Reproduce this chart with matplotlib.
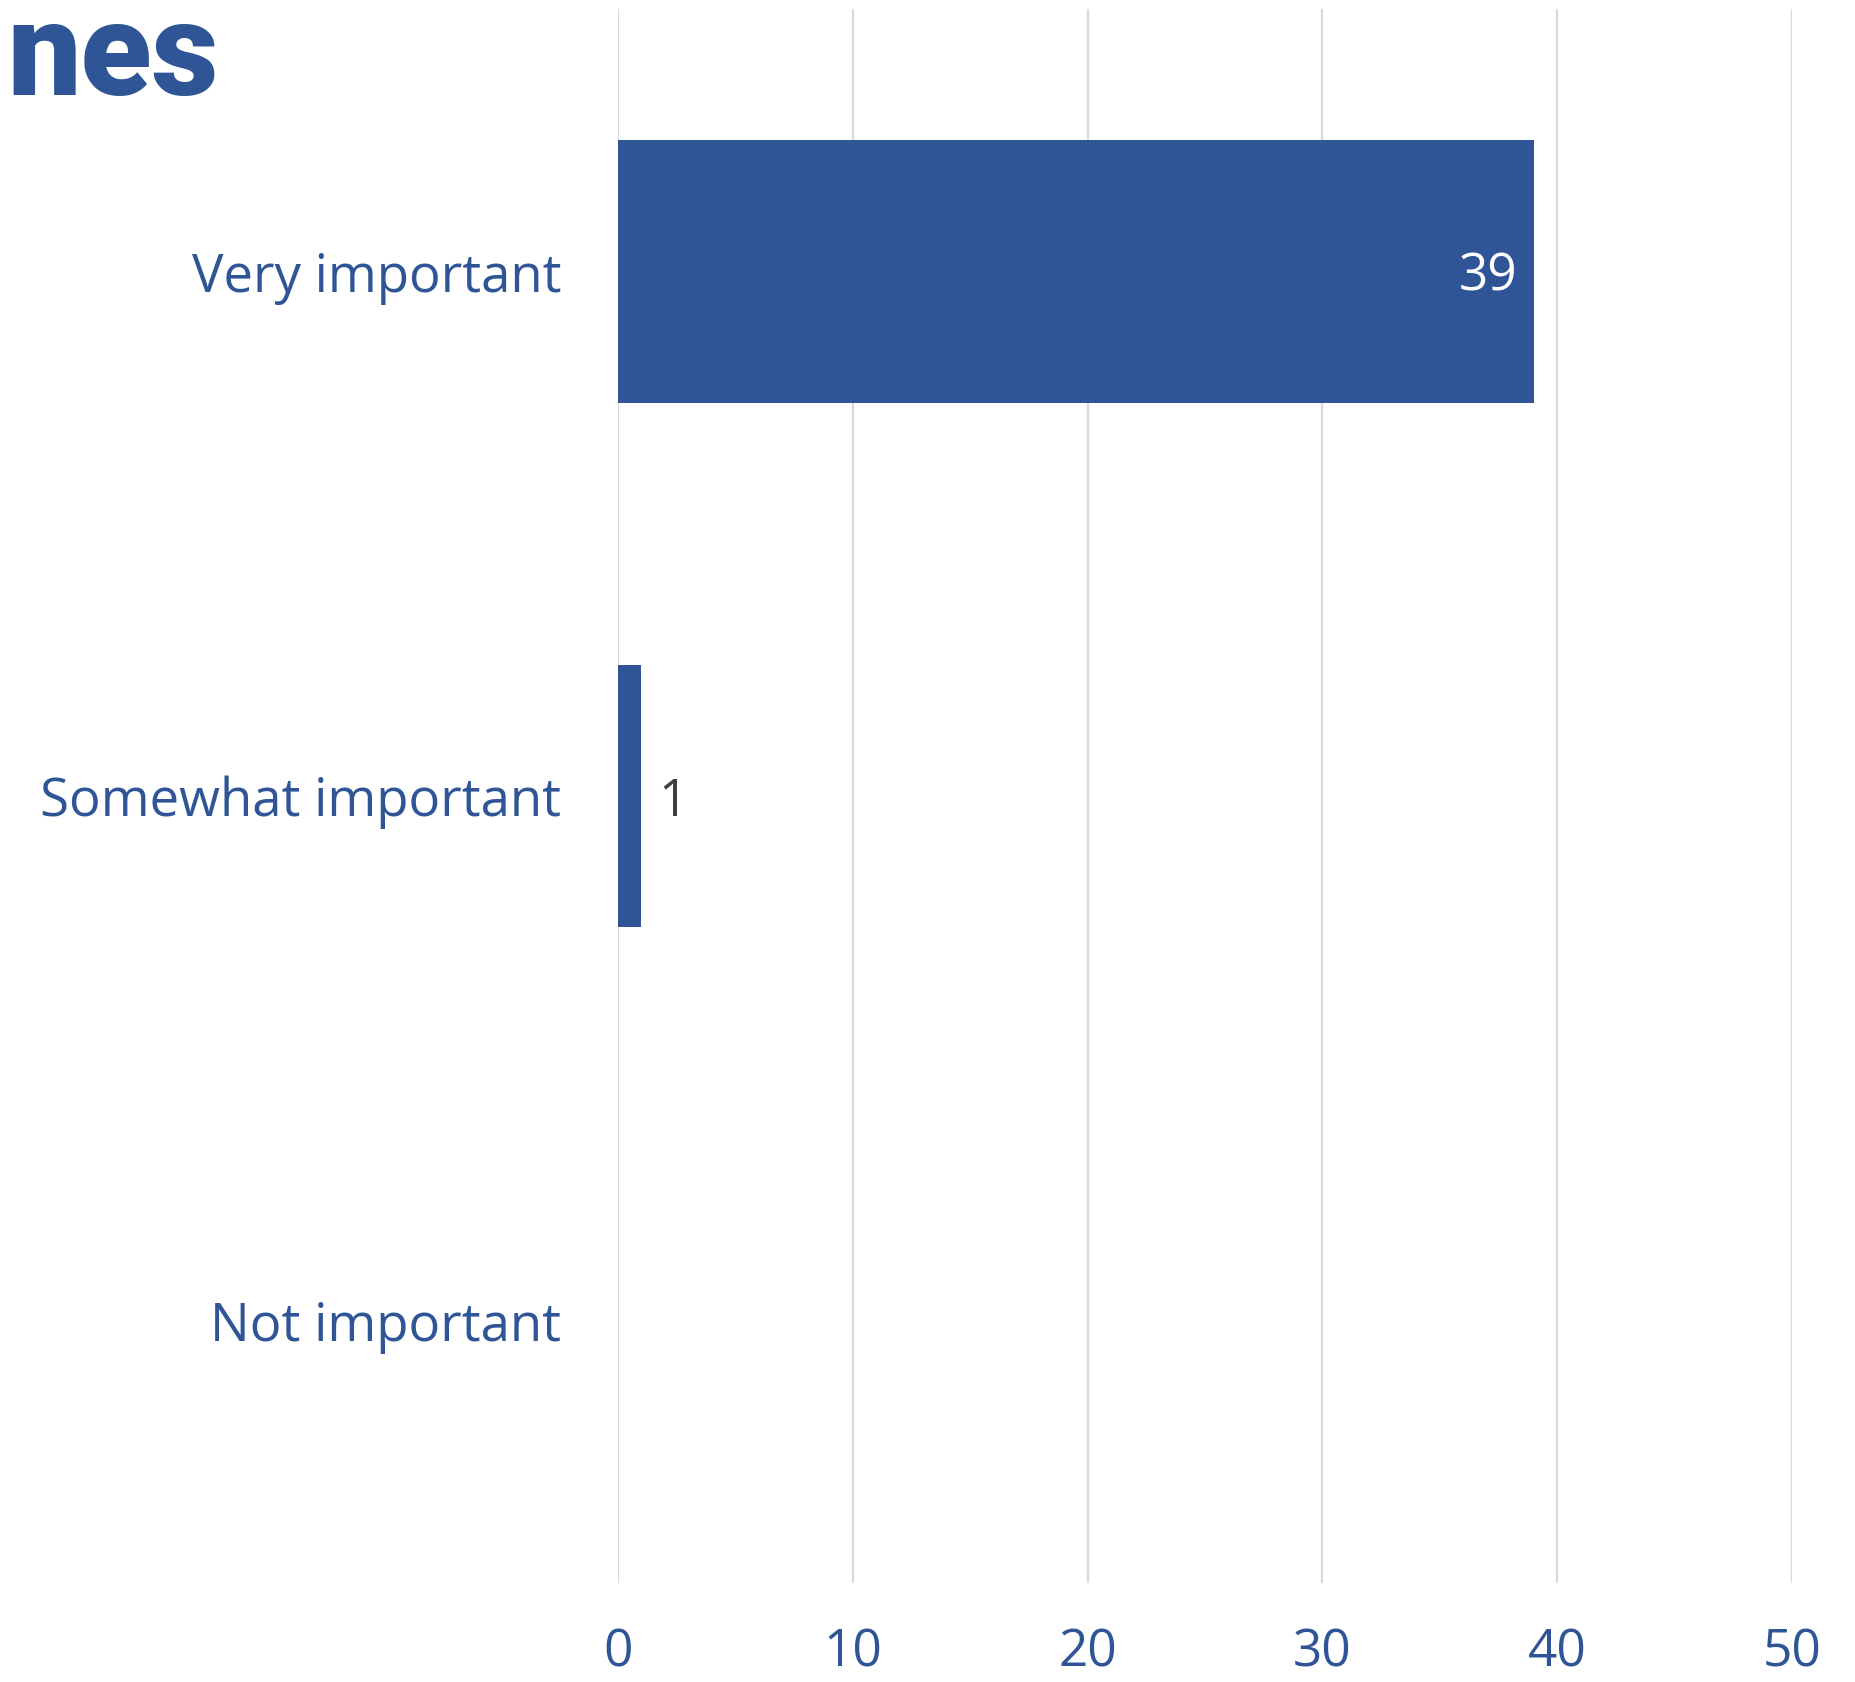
import matplotlib.pyplot as plt

# survey answers, top to bottom
categories = ["Very important", "Somewhat important", "Not important"]
counts = [39, 1, 0]
x_ticks = [0, 10, 20, 30, 40, 50]

blue = "#2F5597"
W, H = 1856, 1682
fig = plt.figure(figsize=(W / 100, H / 100), dpi=100)
ax = fig.add_axes([618 / W, 1 - 1583 / H, (1792 - 618) / W, (1583 - 9) / H])

ypos = list(range(len(categories)))
ax.barh(ypos, counts, height=0.5, color=blue, zorder=3)

# value labels: inside the long bar, outside short ones, nothing for zero
for y, v in zip(ypos, counts):
    if v == 0:
        continue
    if v > 10:
        ax.annotate(str(v), (v, y), xytext=(-12, 0), textcoords="offset points",
                    ha="right", va="center_baseline", color="white", fontsize=37,
                    family="Open Sans")
    else:
        ax.annotate(str(v), (v, y), xytext=(12, 0), textcoords="offset points",
                    ha="left", va="center_baseline", color="#404040", fontsize=37,
                    family="Open Sans")

ax.set_xlim(0, 50)
ax.set_ylim(2.5, -0.5)
ax.set_xticks(x_ticks)
ax.set_yticks(ypos)
ax.set_yticklabels(categories)
ax.grid(axis="x", color="#D9D9D9", linewidth=1.6, zorder=0)
for s in ax.spines.values():
    s.set_visible(False)
ax.tick_params(axis="both", length=0, colors=blue)
ax.tick_params(axis="y", pad=41, labelsize=38)
ax.tick_params(axis="x", pad=32, labelsize=37)
for lbl in ax.get_xticklabels() + ax.get_yticklabels():
    lbl.set_family("Open Sans")

# heading, only its tail fits in the frame
fig.text(219 / W, 1 - 95 / H, "nes", ha="right", va="baseline",
         fontsize=94, fontweight="black", family="Roboto", color=blue)

fig.savefig("out.png", dpi=100, facecolor="white")
